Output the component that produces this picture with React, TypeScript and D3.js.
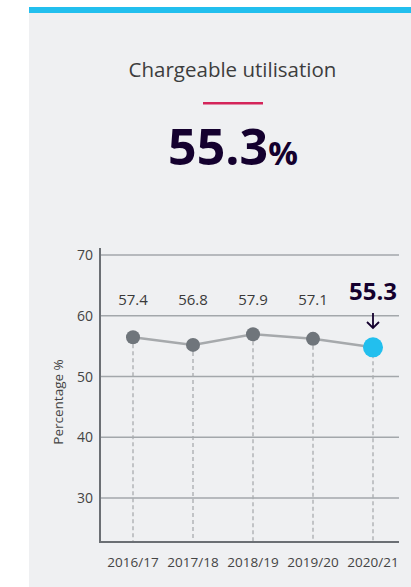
import React from "react";
import * as d3 from "d3";

const years = ["2016/17", "2017/18", "2018/19", "2019/20", "2020/21"];
const labelValues = [57.4, 56.8, 57.9, 57.1, 55.3];
const plotValues = [56.45, 55.2, 56.95, 56.2, 54.8];
const yTicks = [30, 40, 50, 60, 70];
const headline = "55.3";
const title = "Chargeable utilisation";

const W = 411;
const H = 587;
const FONT = "'Open Sans', 'Noto Sans', sans-serif";

export default function App() {
  const x = d3.scalePoint<string>().domain(years).range([133, 373]);
  const y = d3.scaleLinear().domain([30, 70]).range([498, 255]);
  const axisTop = 248;
  const axisBottom = 542;
  const left = 100;
  const right = 399;
  const line = d3
    .line<number>()
    .x((_, i) => x(years[i]) as number)
    .y((d) => y(d));
  const last = years.length - 1;
  const lx = x(years[last]) as number;

  return (
    <svg
      width={W}
      height={H}
      style={{ position: "absolute", left: 0, top: 0, display: "block" }}
    >
      <rect x={0} y={0} width={W} height={H} fill="#ffffff" />
      <rect x={29} y={13} width={W - 29} height={H - 13} fill="#eff0f2" />
      <rect x={29} y={7} width={W - 29} height={6} fill="#22bfee" />

      <text
        x={232.5}
        y={77}
        textAnchor="middle"
        fontFamily={FONT}
        fontSize={20.5}
        fontWeight={500}
        fill="#3d3d3d"
      >
        {title}
      </text>
      <rect x={203} y={102} width={60} height={2.5} fill="#d4245a" />
      <text
        x={233}
        y={165}
        textAnchor="middle"
        fontFamily={FONT}
        fontWeight={700}
        fill="#14002e"
      >
        <tspan fontSize={50}>{headline}</tspan>
        <tspan fontSize={33}>%</tspan>
      </text>

      {yTicks.map((t) => (
        <g key={t}>
          <line
            x1={left}
            x2={right}
            y1={y(t)}
            y2={y(t)}
            stroke="#a3a7ab"
            strokeWidth={1.3}
          />
          <text
            x={93}
            y={y(t) + 5}
            textAnchor="end"
            fontFamily={FONT}
            fontSize={14}
            fill="#444444"
          >
            {t}
          </text>
        </g>
      ))}

      {years.map((yr, i) => (
        <line
          key={yr}
          x1={x(yr)}
          x2={x(yr)}
          y1={y(plotValues[i])}
          y2={axisBottom}
          stroke="#a8abae"
          strokeWidth={1.3}
          strokeDasharray="4 3"
        />
      ))}

      <line x1={left} x2={left} y1={axisTop} y2={axisBottom} stroke="#6b6f74" strokeWidth={2} />
      <line x1={left - 1} x2={right} y1={axisBottom} y2={axisBottom} stroke="#6b6f74" strokeWidth={2} />

      <path d={line(plotValues) || ""} fill="none" stroke="#a6a9ac" strokeWidth={2.5} />

      {years.map((yr, i) => (
        <circle
          key={yr}
          cx={x(yr)}
          cy={y(plotValues[i])}
          r={i === last ? 10 : 7}
          fill={i === last ? "#22bfee" : "#6f757b"}
        />
      ))}

      {years.map((yr, i) =>
        i === last ? (
          <text
            key={yr}
            x={x(yr)}
            y={300}
            textAnchor="middle"
            fontFamily={FONT}
            fontWeight={700}
            fontSize={24}
            fill="#14002e"
          >
            {labelValues[i].toFixed(1)}
          </text>
        ) : (
          <text
            key={yr}
            x={x(yr)}
            y={305}
            textAnchor="middle"
            fontFamily={FONT}
            fontSize={15}
            fill="#3a3a3a"
          >
            {labelValues[i].toFixed(1)}
          </text>
        )
      )}
      <path
        d={`M${lx},313 L${lx},328 M${lx - 6},322 L${lx},328 L${lx + 6},322`}
        fill="none"
        stroke="#14002e"
        strokeWidth={1.8}
      />

      {years.map((yr) => (
        <text
          key={yr}
          x={x(yr)}
          y={567}
          textAnchor="middle"
          fontFamily={FONT}
          fontSize={13.5}
          fill="#444444"
        >
          {yr}
        </text>
      ))}

      <text
        transform={`translate(63, 402) rotate(-90)`}
        textAnchor="middle"
        fontFamily={FONT}
        fontSize={13.5}
        fill="#444444"
      >
        Percentage %
      </text>
    </svg>
  );
}
